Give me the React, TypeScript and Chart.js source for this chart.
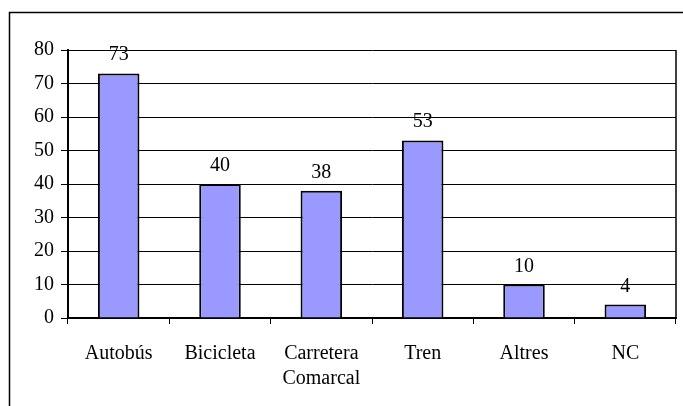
import React, { useEffect, useRef } from "react";
import { Chart, registerables } from "chart.js";

Chart.register(...registerables);

const categories: (string | string[])[] = ["Autobús", "Bicicleta", ["Carretera", "Comarcal"], "Tren", "Altres", "NC"];
const values: number[] = [73, 40, 38, 53, 10, 4];
const yMin = 0;
const yMax = 80;
const yStep = 10;

const FONT = "'Liberation Serif', 'Times New Roman', serif";

const framePlugin = {
  id: "frame",
  afterDraw(chart: any) {
    const ctx = chart.ctx;
    const ca = chart.chartArea;
    ctx.save();
    ctx.strokeStyle = "#000";
    ctx.lineWidth = 1.5;
    ctx.strokeRect(9.5, 12.5, 700, 420);
    ctx.lineWidth = 1.5;
    ctx.beginPath();
    ctx.moveTo(ca.right, ca.top);
    ctx.lineTo(ca.right, ca.bottom);
    ctx.stroke();
    ctx.restore();
  },
};

const valueLabels = {
  id: "valueLabels",
  afterDatasetsDraw(chart: any) {
    const ctx = chart.ctx;
    const meta = chart.getDatasetMeta(0);
    ctx.save();
    ctx.font = `20px ${FONT}`;
    ctx.fillStyle = "#000";
    ctx.textAlign = "center";
    ctx.textBaseline = "alphabetic";
    meta.data.forEach((el: any, i: number) => {
      ctx.fillText(String(chart.data.datasets[0].data[i]), el.x, el.y - 13);
    });
    ctx.restore();
  },
};

export default function App() {
  const ref = useRef<HTMLCanvasElement | null>(null);
  useEffect(() => {
    if (!ref.current) return;
    const chart = new Chart(ref.current, {
      type: "bar",
      data: {
        labels: categories,
        datasets: [
          {
            data: values,
            backgroundColor: "#9999FF",
            borderColor: "#000",
            borderWidth: 2,
            categoryPercentage: 1,
            barPercentage: 0.41,
          },
        ],
      },
      options: {
        animation: false,
        responsive: false,
        maintainAspectRatio: false,
        layout: { padding: { top: 50, right: 7, left: 0, bottom: 0 } },
        plugins: { legend: { display: false }, tooltip: { enabled: false } },
        scales: {
          x: {
            offset: true,
            grid: {
              display: true,
              offset: true,
              drawOnChartArea: false,
              drawTicks: true,
              tickLength: 6,
              color: "#000",
            },
            border: { display: true, color: "#000", width: 2 },
            ticks: {
              color: "#000",
              font: { family: FONT, size: 20, lineHeight: 1.25 },
              padding: 17,
              maxRotation: 0,
              autoSkip: false,
            },
            afterFit(scale: any) {
              scale.height = 88;
            },
          },
          y: {
            min: yMin,
            max: yMax,
            ticks: {
              stepSize: yStep,
              color: "#000",
              font: { family: FONT, size: 20 },
              padding: 7,
            },
            grid: {
              color: "#000",
              lineWidth: 1,
              drawTicks: true,
              tickLength: 7,
            },
            border: { display: true, color: "#000", width: 2 },
            afterFit(scale: any) {
              scale.width = 68;
            },
          },
        },
      },
      plugins: [framePlugin, valueLabels],
    });
    return () => chart.destroy();
  }, []);
  return (
    <div style={{ position: "absolute", left: 0, top: 0, width: 683, height: 406, background: "#fff" }}>
      <canvas ref={ref} width={683} height={406} style={{ display: "block" }} />
    </div>
  );
}
